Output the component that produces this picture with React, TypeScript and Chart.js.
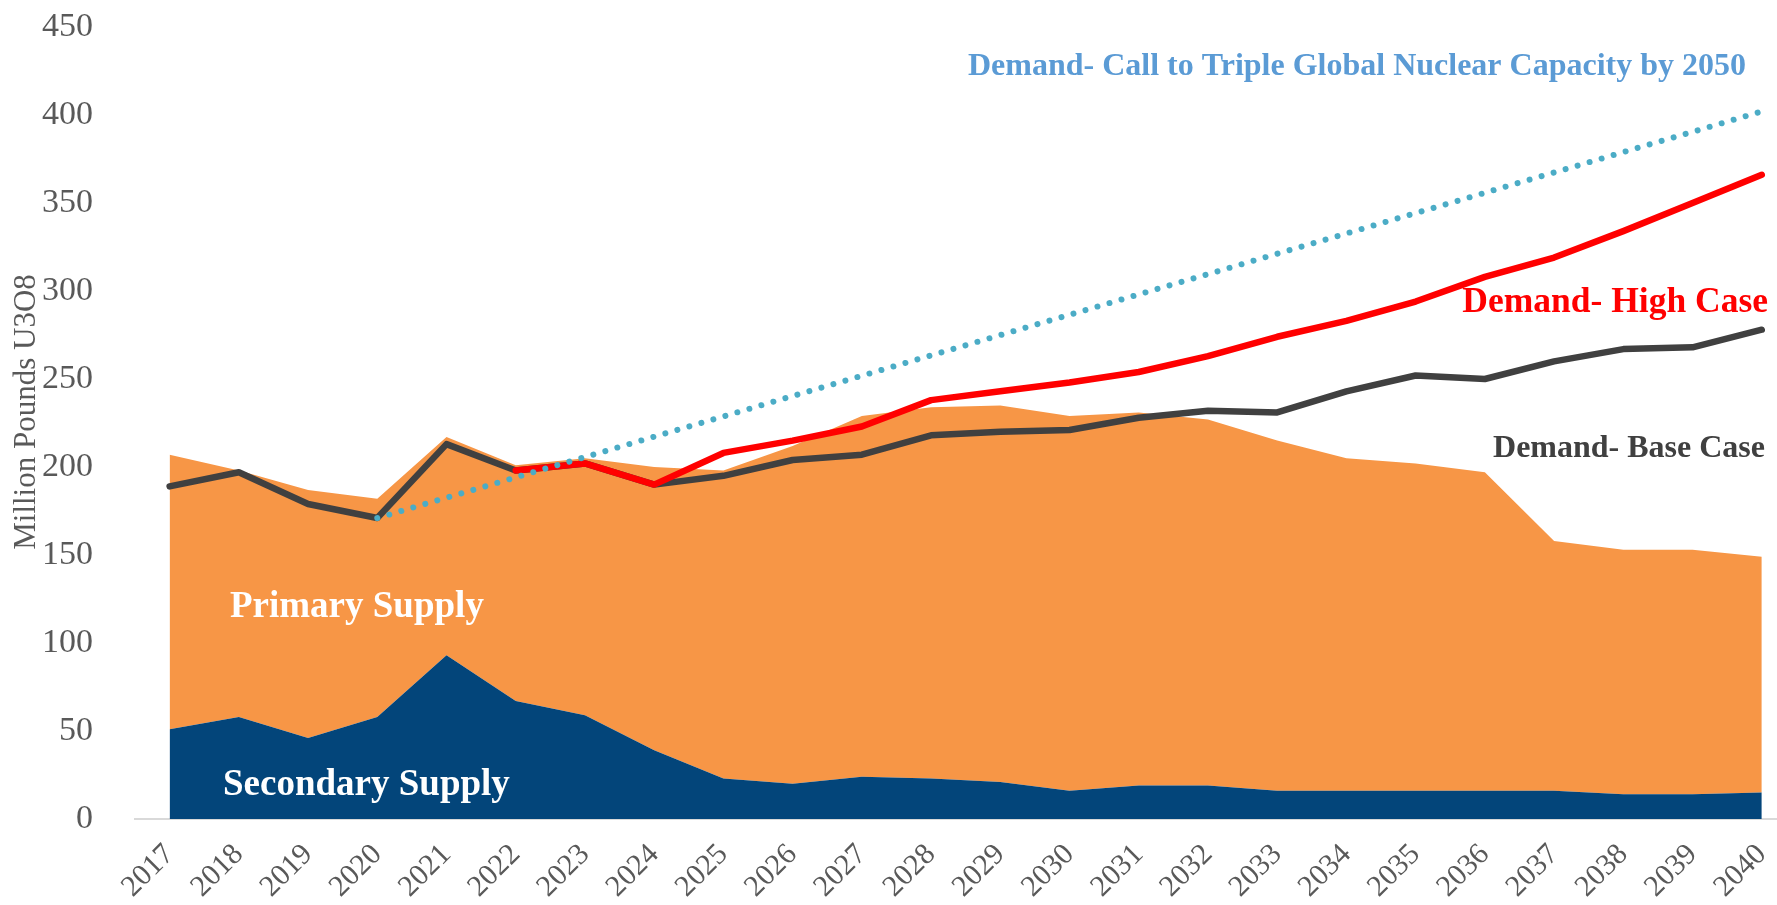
import React, { useEffect, useRef } from "react";
import { Chart, registerables } from "chart.js";

Chart.register(...registerables);

const years = [
  "2017", "2018", "2019", "2020", "2021", "2022", "2023", "2024", "2025", "2026", "2027", "2028",
  "2029", "2030", "2031", "2032", "2033", "2034", "2035", "2036", "2037", "2038", "2039", "2040",
];

const secondarySupply = [51, 58, 46, 58, 93, 67, 59, 39, 23, 20, 24, 23, 21, 16, 19, 19, 16, 16, 16, 16, 16, 14, 14, 15];
const primarySupply = [156, 140, 141, 124, 124, 134, 146, 161, 175, 192, 205, 211, 214, 213, 212, 208, 199, 189, 186, 181, 142, 139, 139, 134];
const demandBase = [189, 197, 179, 171, 213, 198, 202, 190, 195, 204, 207, 218, 220, 221, 228, 232, 231, 243, 252, 250, 260, 267, 268, 278];
const demandHigh = [null, null, null, null, null, 198, 202, 190, 208, 215, 223, 238, 243, 248, 254, 263, 274, 283, 294, 308, 319, 334, 350, 366];
const demandTriple = [null, null, null, 171, null, null, null, null, null, null, null, null, null, null, null, null, null, null, null, null, null, null, null, 402];

const yTicks = [0, 50, 100, 150, 200, 250, 300, 350, 400, 450];
const yTitle = "Million Pounds U3O8";

const labels = [
  { text: "Demand- Call to Triple Global Nuclear Capacity by 2050", x: 1746, y: 75, size: 32, color: "#5B9BD5", align: "right" },
  { text: "Demand- High Case", x: 1768, y: 312, size: 35.5, color: "#FF0000", align: "right" },
  { text: "Demand- Base Case", x: 1765, y: 457, size: 32, color: "#404040", align: "right" },
  { text: "Primary Supply", x: 230, y: 617, size: 37, color: "#FFFFFF", align: "left" },
  { text: "Secondary Supply", x: 223, y: 795, size: 37, color: "#FFFFFF", align: "left" },
];

const FONT = "'Times New Roman', 'Liberation Serif', serif";

const toPoints = (arr: (number | null)[]) => arr.map((v, i) => ({ x: i, y: v }));

export default function App() {
  const canvasRef = useRef<HTMLCanvasElement | null>(null);

  useEffect(() => {
    const canvas = canvasRef.current;
    if (!canvas) return;
    const totalSupply = primarySupply.map((v, i) => v + secondarySupply[i]);

    const textPlugin = {
      id: "textLabels",
      afterDraw(chart: any) {
        const ctx = chart.ctx;
        ctx.save();
        ctx.textBaseline = "alphabetic";
        for (const l of labels) {
          ctx.font = `bold ${l.size}px ${FONT}`;
          ctx.fillStyle = l.color;
          ctx.textAlign = l.align as CanvasTextAlign;
          ctx.fillText(l.text, l.x, l.y);
        }
        // y-axis title
        ctx.translate(27, 412);
        ctx.rotate(-Math.PI / 2);
        ctx.font = `31px ${FONT}`;
        ctx.fillStyle = "#595959";
        ctx.textAlign = "center";
        ctx.textBaseline = "middle";
        ctx.fillText(yTitle, 0, 0);
        ctx.restore();
      },
    };

    const chart = new Chart(canvas, {
      type: "line",
      data: {
        datasets: [
          {
            label: "Demand- Call to Triple Global Nuclear Capacity by 2050",
            data: toPoints(demandTriple),
            borderColor: "#4BACC6",
            borderWidth: 6,
            borderDash: [0.01, 12.5],
            borderCapStyle: "round",
            pointRadius: 0,
            spanGaps: true,
            fill: false,
          },
          {
            label: "Demand- High Case",
            data: toPoints(demandHigh),
            borderColor: "#FF0000",
            borderWidth: 6.5,
            borderCapStyle: "round",
            borderJoinStyle: "round",
            pointRadius: 0,
            fill: false,
          },
          {
            label: "Demand- Base Case",
            data: toPoints(demandBase),
            borderColor: "#404040",
            borderWidth: 6.5,
            borderCapStyle: "round",
            borderJoinStyle: "round",
            pointRadius: 0,
            fill: false,
          },
          {
            label: "Secondary Supply",
            data: toPoints(secondarySupply),
            borderWidth: 0,
            borderColor: "rgba(0,0,0,0)",
            backgroundColor: "#03457A",
            pointRadius: 0,
            fill: "origin",
          },
          {
            label: "Primary Supply",
            data: toPoints(totalSupply),
            borderWidth: 0,
            borderColor: "rgba(0,0,0,0)",
            backgroundColor: "#F79646",
            pointRadius: 0,
            fill: "-1",
          },
        ],
      },
      options: {
        animation: false,
        responsive: false,
        devicePixelRatio: 1,
        layout: { padding: { top: 27, right: 0, left: 0, bottom: 0 } },
        plugins: {
          legend: { display: false },
          tooltip: { enabled: false },
        },
        elements: { line: { tension: 0 } },
        scales: {
          x: {
            type: "linear",
            min: -0.5,
            max: 23.22,
            afterBuildTicks: (scale: any) => {
              scale.ticks = years.map((_, i) => ({ value: i }));
            },
            afterFit: (scale: any) => {
              scale.height = 86;
              scale.paddingLeft = 0;
              scale.paddingRight = 0;
              scale.paddingTop = 0;
              scale.paddingBottom = 0;
            },
            grid: { display: false, drawTicks: false },
            border: { display: true, color: "#D9D9D9", width: 2 },
            ticks: {
              autoSkip: false,
              minRotation: 45,
              maxRotation: 45,
              padding: 18,
              color: "#595959",
              font: { family: FONT, size: 30 },
              callback: (value: any) => years[Number(value)] ?? "",
            },
          },
          y: {
            min: 0,
            max: 450,
            afterBuildTicks: (scale: any) => {
              scale.ticks = yTicks.map((v) => ({ value: v }));
            },
            afterFit: (scale: any) => {
              scale.width = 135;
              scale.paddingTop = 0;
              scale.paddingBottom = 0;
            },
            grid: { display: false, drawTicks: false },
            border: { display: false },
            ticks: {
              padding: 42,
              color: "#595959",
              font: { family: FONT, size: 34 },
            },
          },
        },
      },
      plugins: [textPlugin],
    } as any);

    return () => chart.destroy();
  }, []);

  return (
    <div style={{ position: "fixed", left: 0, top: 0, width: 1777, height: 905, background: "#FFFFFF" }}>
      <canvas ref={canvasRef} width={1777} height={905} style={{ display: "block", width: 1777, height: 905 }} />
    </div>
  );
}
